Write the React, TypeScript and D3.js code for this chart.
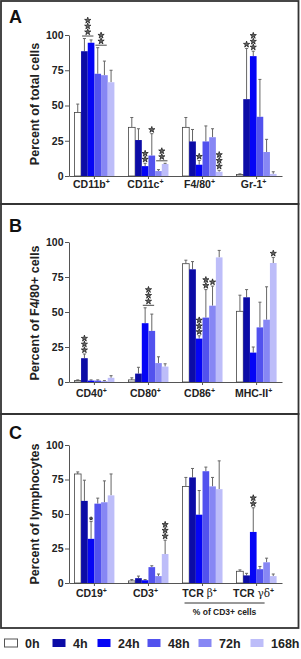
import * as d3 from 'd3'
import { useEffect, useRef } from 'react'

const timepoints = ['0h', '4h', '24h', '48h', '72h', '168h']
const barColors = ['#ffffff', '#0c0ca6', '#0505f5', '#5252ee', '#8787f4', '#bdbdf9']
const yTicks = [0, 25, 50, 75, 100]

// A: percent of total cells
const aCategories = ['CD11b', 'CD11c', 'F4/80', 'Gr-1']
const aMeans = [
  [45, 88.5, 94.5, 72.5, 71.5, 66.5],
  [34.5, 25.5, 7, 14.5, 3.5, 8.5],
  [34.5, 24.5, 8, 24.5, 27.5, 3],
  [1, 54.5, 85, 42, 17, 1.5],
]
const aUpper = [
  [51, 97.5, 96.5, 91, 81.5, 75],
  [41.5, 33.5, 9, 30, 4.5, 9],
  [41.5, 33, 11, 35.5, 33.5, 4],
  [1.5, 90.5, 88.5, 68.5, 26, 3],
]
// [category, first bar, last bar, number of stars]
const aStars = [
  [0, 1, 2, 3],
  [0, 3, 4, 2],
  [1, 2, 2, 2],
  [1, 3, 3, 1],
  [1, 4, 5, 2],
  [2, 2, 2, 1],
  [2, 5, 5, 3],
  [3, 1, 1, 1],
  [3, 2, 2, 3],
]

// B: percent of F4/80+ cells
const bCategories = ['CD40', 'CD80', 'CD86', 'MHC-II']
const bMeans = [
  [1, 17, 1, 1, 0.5, 3],
  [1.5, 6, 42, 36.5, 13.5, 11],
  [84.5, 80.5, 31, 46, 54.5, 89],
  [50.5, 60.5, 21, 39, 44.5, 85],
]
const bUpper = [
  [1.5, 20, 1.5, 1.5, 1, 4.5],
  [3, 10.5, 53, 48.5, 18, 13],
  [87, 86, 33, 66, 68.5, 94],
  [62, 66, 25, 57, 68, 89],
]
const bStars = [
  [0, 1, 1, 3],
  [1, 2, 3, 3],
  [2, 2, 2, 3],
  [2, 3, 3, 2],
  [2, 4, 4, 1],
  [3, 5, 5, 1],
]

// C: percent of lymphocytes
const cCategories = ['CD19', 'CD3', 'TCR β', 'TCR γδ']
const cMeans = [
  [79, 59.5, 32, 57.5, 58.5, 63.5],
  [1.5, 3.5, 2, 11.5, 5, 21],
  [70, 76.5, 49.5, 81, 70, 68],
  [8.5, 5.5, 37, 10, 15, 5],
]
const cUpper = [
  [80.5, 74.5, 44.5, 61.5, 74, 79],
  [2.5, 5, 2.5, 12.5, 6.5, 31],
  [76.5, 83, 67, 84, 76.5, 88.5],
  [9.5, 7, 54.5, 12, 18, 6.5],
]
const cStars = [
  [0, 2, 2, 1],
  [1, 5, 5, 3],
  [3, 2, 2, 2],
]

const font = 'Liberation Sans, Arial, Helvetica, sans-serif'
const ink = '#333'

interface Panel {
  letter: string
  yTitle: string
  categories: string[]
  means: number[][]
  upper: number[][]
  stars: number[][]
  top: number
  bottom: number
  y0: number
  y100: number
  labelY: number
  letterY: number
  titleY: number
}

const panels: Panel[] = [
  {
    letter: 'A', yTitle: 'Percent of total cells',
    categories: aCategories, means: aMeans, upper: aUpper, stars: aStars,
    top: 1, bottom: 204, y0: 176, y100: 35, labelY: 188, letterY: 23, titleY: 104,
  },
  {
    letter: 'B', yTitle: 'Percent of F4/80+ cells',
    categories: bCategories, means: bMeans, upper: bUpper, stars: bStars,
    top: 204, bottom: 414, y0: 382, y100: 242, labelY: 397, letterY: 232, titleY: 313,
  },
  {
    letter: 'C', yTitle: 'Percent of lymphocytes',
    categories: cCategories, means: cMeans, upper: cUpper, stars: cStars,
    top: 414, bottom: 628, y0: 583, y100: 445, labelY: 597, letterY: 439, titleY: 514,
  },
]

const App = () => {
  const ref = useRef<SVGSVGElement>(null)

  useEffect(() => {
    const svg = d3.select(ref.current)
    svg.selectAll('*').remove()

    const star = d3.symbol().type(d3.symbolStar)

    panels.forEach(function (p) {
      const g = svg.append('g')

      g.append('rect')
        .attr('x', 1)
        .attr('y', p.top)
        .attr('width', 297.5)
        .attr('height', p.bottom - p.top)
        .attr('fill', 'none')
        .attr('stroke', ink)
        .attr('stroke-width', 1.8)

      g.append('text')
        .attr('x', 9)
        .attr('y', p.letterY)
        .attr('font-size', 18)
        .attr('font-weight', 'bold')
        .attr('fill', '#111')
        .text(p.letter)

      g.append('text')
        .attr('transform', 'translate(39,' + p.titleY + ') rotate(-90)')
        .attr('text-anchor', 'middle')
        .attr('font-size', 12.5)
        .attr('font-weight', 'bold')
        .attr('fill', '#222')
        .text(p.yTitle)

      const y = d3.scaleLinear().domain([0, 100]).range([p.y0, p.y100])
      const x = d3
        .scaleBand<string>()
        .domain(p.categories)
        .range([69, 282])
        .paddingInner(0.26)
        .paddingOuter(0.1)
      const xs = d3.scaleBand<string>().domain(timepoints).range([0, x.bandwidth()])

      const yAxis = g
        .append('g')
        .attr('transform', 'translate(69,0)')
        .call(d3.axisLeft(y).tickValues(yTicks).tickSize(4).tickSizeOuter(0).tickPadding(1.5))
      yAxis.select('.domain').attr('stroke', '#555')
      yAxis.selectAll('.tick line').attr('stroke', '#555')
      yAxis
        .selectAll('.tick text')
        .attr('font-family', font)
        .attr('font-size', 10.5)
        .attr('font-weight', 'bold')
        .attr('fill', '#222')

      const xAxis = g
        .append('g')
        .attr('transform', 'translate(0,' + p.y0 + ')')
        .call(d3.axisBottom(x).tickSize(3).tickSizeOuter(0).tickFormat(() => ''))
      xAxis.select('.domain').attr('stroke', '#555')
      xAxis.selectAll('.tick line').attr('stroke', '#555')

      p.categories.forEach(function (cat, ci) {
        const gx = x(cat) ?? 0
        const cg = g.append('g').attr('transform', 'translate(' + gx + ',0)')

        cg.selectAll('line.err')
          .data(timepoints)
          .enter()
          .append('line')
          .attr('class', 'err')
          .attr('x1', (t) => (xs(t) ?? 0) + xs.bandwidth() / 2)
          .attr('x2', (t) => (xs(t) ?? 0) + xs.bandwidth() / 2)
          .attr('y1', (_t, i) => y(p.means[ci][i]))
          .attr('y2', (_t, i) => y(p.upper[ci][i]))
          .attr('stroke', '#666')
          .attr('stroke-width', 1)

        cg.selectAll('line.cap')
          .data(timepoints)
          .enter()
          .append('line')
          .attr('class', 'cap')
          .attr('x1', (t) => (xs(t) ?? 0) + xs.bandwidth() / 2 - 1.5)
          .attr('x2', (t) => (xs(t) ?? 0) + xs.bandwidth() / 2 + 1.5)
          .attr('y1', (_t, i) => y(p.upper[ci][i]))
          .attr('y2', (_t, i) => y(p.upper[ci][i]))
          .attr('stroke', '#666')
          .attr('stroke-width', 1)

        cg.selectAll('rect')
          .data(timepoints)
          .enter()
          .append('rect')
          .attr('x', (t) => xs(t) ?? 0)
          .attr('width', xs.bandwidth())
          .attr('y', (_t, i) => y(p.means[ci][i]))
          .attr('height', (_t, i) => p.y0 - y(p.means[ci][i]))
          .attr('fill', (_t, i) => barColors[i])
          .attr('stroke', (_t, i) => (i === 0 ? '#444' : 'none'))
          .attr('stroke-width', 0.8)

        // category label with superscript plus
        const parts = cat.split(' ')
        const label = g
          .append('text')
          .attr('x', gx + x.bandwidth() / 2 - 3)
          .attr('y', p.labelY)
          .attr('text-anchor', 'middle')
          .attr('font-size', 10.5)
          .attr('font-weight', 'bold')
          .attr('fill', '#222')
        if (parts.length > 1) {
          label.append('tspan').text(parts[0] + ' ')
          label
            .append('tspan')
            .attr('font-family', 'DejaVu Serif, serif')
            .attr('font-weight', 'normal')
            .text(parts[1])
        } else {
          label.append('tspan').text(cat)
        }
        label.append('tspan').attr('dy', -4).attr('font-size', 7).text('+')
      })

      p.stars.forEach(function (s) {
        const [ci, from, to, n] = s
        const cat = p.categories[ci]
        const gx = x(cat) ?? 0
        const left = gx + (xs(timepoints[from]) ?? 0)
        const right = gx + (xs(timepoints[to]) ?? 0) + xs.bandwidth()
        let base = d3.min(d3.range(from, to + 1), (i) => y(p.upper[ci][i])) ?? 0
        if (from !== to) {
          base -= 2.5
          g.append('line')
            .attr('x1', left + 1)
            .attr('x2', right - 1)
            .attr('y1', base)
            .attr('y2', base)
            .attr('stroke', ink)
            .attr('stroke-width', 0.9)
        }
        const small = p.letter === 'C' && ci === 0
        const cx = (left + right) / 2
        d3.range(n).forEach(function (k) {
          g.append('path')
            .attr('d', star.size(small ? 4 : 12)())
            .attr('transform', 'translate(' + cx + ',' + (base - (small ? 3 : 4) - k * 5.8) + ')')
            .attr('fill', '#666')
            .attr('stroke', '#111')
            .attr('stroke-width', 0.7)
        })
      })

      if (p.letter === 'C') {
        const x0 = (x(p.categories[2]) ?? 0) + 2
        const x1 = (x(p.categories[3]) ?? 0) + x.bandwidth() - 12
        g.append('line')
          .attr('x1', x0)
          .attr('x2', x1)
          .attr('y1', 603)
          .attr('y2', 603)
          .attr('stroke', ink)
          .attr('stroke-width', 1)
        g.append('text')
          .attr('x', (x0 + x1) / 2)
          .attr('y', 615)
          .attr('text-anchor', 'middle')
          .attr('font-size', 8.5)
          .attr('font-weight', 'bold')
          .attr('fill', '#222')
          .text('% of CD3+ cells')
      }
    })

    // legend row
    const legendX = [4, 52, 97, 147, 198, 250]
    const legend = svg.append('g').attr('transform', 'translate(0,643)')
    timepoints.forEach(function (t, i) {
      legend
        .append('rect')
        .attr('x', legendX[i] + 0.5)
        .attr('y', -4)
        .attr('width', 13)
        .attr('height', 8)
        .attr('fill', barColors[i])
        .attr('stroke', i === 0 ? '#555' : 'none')
      legend
        .append('text')
        .attr('x', legendX[i] + 21)
        .attr('y', 4.5)
        .attr('font-size', 12.5)
        .attr('font-weight', 'bold')
        .attr('fill', '#222')
        .text(t)
    })
  }, [])

  return (
    <svg
      ref={ref}
      width={301}
      height={659}
      style={{ position: 'absolute', left: 0, top: 0, background: '#fff' }}
      fontFamily={font}
    />
  )
}

export default App
